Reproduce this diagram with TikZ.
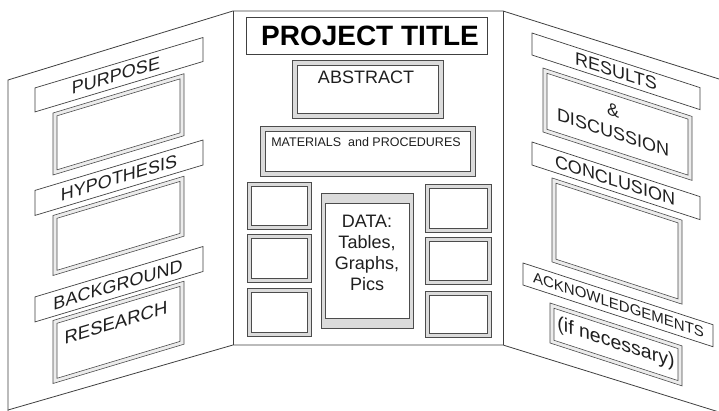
\documentclass[tikz,border=0pt]{standalone}
\usepackage{fontspec}
\setmainfont{Liberation Sans}
\tikzset{
  edge/.style={draw=black!75, line width=0.8pt},
  band/.style={draw=black!70, line width=0.6pt, fill=gray!28},
  sband/.style={draw=black!70, line width=0.6pt, fill=gray!15},
  innerbox/.style={draw=black!70, line width=0.6pt, fill=white},
  bar/.style={draw=black!75, line width=0.7pt, fill=white},
  lbl/.style={inner sep=0pt, transform shape, text=black!88, font=\fontsize{18}{22}\selectfont},
  clbl/.style={inner sep=0pt, text=black!88, font=\fontsize{18}{21}\selectfont},
}
\newcommand\twoframe[7][band]{%
  \path[#1] (#2,#3) rectangle (#4,#5);
  \path[innerbox] ({#2+#6},{#3+#7}) rectangle ({#4-#6},{#5-#7});}
\begin{document}
\begin{tikzpicture}[x=1pt,y=-1pt]
\useasboundingbox (0,0) rectangle (719,411);
\fill[white] (0,0) rectangle (719,411);
% panel outlines
\draw[edge] (8,411) -- (8,80) -- (233,11) -- (503,11) -- (719,79);
\draw[edge] (8,410) -- (233,345) -- (503,345) -- (719,412);
\draw[edge] (233,11) -- (233,345);
\draw[edge] (503,11) -- (503,345);
% centre panel
\draw[bar] (246,17) rectangle (487,54);
\node[inner sep=0pt, text=black, font=\bfseries\fontsize{28}{30}\selectfont] (title) at (370,36) {PROJECT TITLE};
\twoframe{292}{60}{443}{118}{5}{5}
\node[clbl] (abs) at (366,77.5) {ABSTRACT};
\twoframe{260}{126}{475}{176}{5}{5}
\node[inner sep=0pt, text=black!88, font=\fontsize{12.5}{14}\selectfont] (mat) at (366,142) {MATERIALS\ \ and PROCEDURES};
\twoframe{247}{182}{311}{229}{4}{4}
\twoframe{247}{234}{311}{282}{4}{4}
\twoframe{247}{288}{311}{336}{4}{4}
\twoframe{425}{184}{491}{232}{4}{4}
\twoframe{425}{237}{491}{284}{4}{4}
\twoframe{425}{291}{491}{337}{4}{4}
\twoframe{321}{193}{413}{328}{4}{10}
\node[clbl, align=center] (data) at (367,253) {DATA:\\Tables,\\Graphs,\\Pics};
% left panel
\begin{scope}[shift={(8,0)}, cm={1,0.3,0,1,(0,0)}]
  \draw[bar] (27,96) rectangle (195,120);
  \node[lbl] (purpose) at (108,108) {PURPOSE};
  \twoframe[sband]{45}{126.5}{176}{188.5}{4}{4}
  \draw[bar] (27,198.5) rectangle (195,223.5);
  \node[lbl] (hyp) at (111,211) {HYPOTHESIS};
  \twoframe[sband]{45}{229}{176}{289}{4}{4}
  \draw[bar] (27,305) rectangle (195,330);
  \node[lbl] (bg) at (110,317.5) {BACKGROUND};
  \twoframe[sband]{45}{334}{176}{397}{4}{4}
  \node[lbl, font=\fontsize{18.5}{22}\selectfont] (res) at (108,355) {RESEARCH};
\end{scope}
% right panel
\begin{scope}[shift={(503,0)}, cm={1,-0.325,0,1,(0,0)}]
  \draw[bar] (29,23.6) rectangle (197,45.6);
  \node[lbl] (results) at (113,34.6) {RESULTS};
  \twoframe[sband]{40}{55}{189}{119}{4}{4}
  \node[lbl, align=center] (disc) at (110,86) {\&\\DISCUSSION};
  \draw[bar] (29,132.6) rectangle (197,155.6);
  \node[lbl] (concl) at (112,144.1) {CONCLUSION};
  \twoframe[sband]{49}{162}{179}{246}{4}{4}
  \draw[bar] (20,256.5) rectangle (210,278.5);
  \node[lbl, font=\fontsize{15}{17}\selectfont] (ack) at (115.5,267.5) {ACKNOWLEDGEMENTS};
  \twoframe[sband]{47}{287.7}{179}{327.7}{4}{4}
  \node[lbl, font=\fontsize{19.5}{22}\selectfont] (ifn) at (113,307) {(if necessary)};
\end{scope}
\end{tikzpicture}
\end{document}
